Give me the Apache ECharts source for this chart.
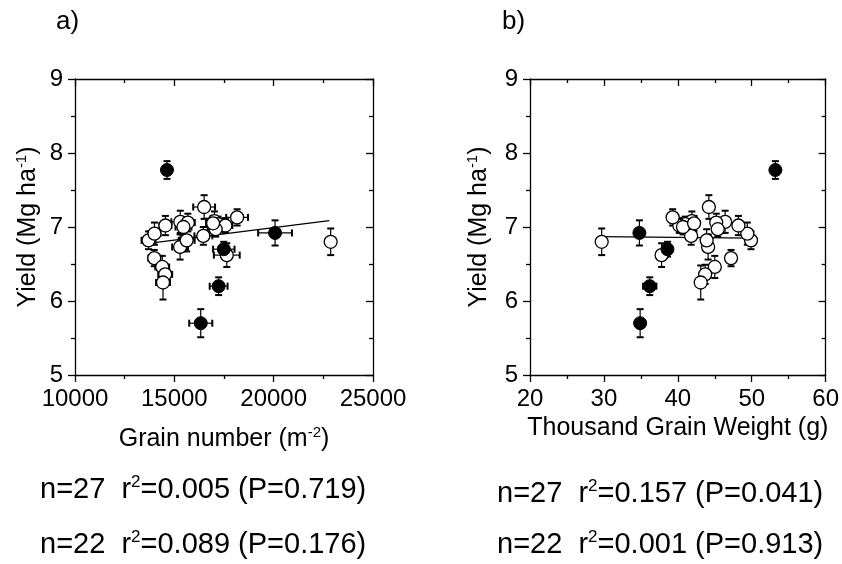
<!DOCTYPE html>
<html>
<head>
<meta charset="utf-8">
<script src="https://cdn.jsdelivr.net/npm/echarts@6/dist/echarts.min.js"></script>
<style>
  html, body { margin: 0; background: #fff; }
  #chart { width: 842px; height: 564px; }
</style>
</head>
<body>
<div id="chart"></div>
<script>
// open symbols (n=22)
const grainOpen = [13700, 14000, 14550, 13990, 14390, 14540, 14430, 15300, 15680, 15290, 15620,
  16500, 16460, 17020, 17200, 17570, 18160, 17640, 22870, 17080, 15460, 16950];
const grainOpenErr = [350, 300, 300, 300, 350, 350, 350, 450, 350, 400, 400,
  550, 450, 400, 400, 350, 550, 650, 250, 400, 400, 350];
const tgwOpen = [49.9, 49.4, 48.2, 47.2, 45.0, 43.7, 43.1, 46.4, 45.2, 44.1, 43.9,
  44.2, 41.8, 41.9, 41.0, 40.2, 39.3, 37.8, 29.7, 45.4, 40.7, 42.2];
const tgwOpenErr = [0.4, 0.5, 0.4, 0.3, 0.4, 0.5, 0.5, 0.5, 0.4, 0.3, 0.4,
  0.6, 0.5, 0.4, 0.4, 0.4, 0.4, 0.5, 0.3, 0.4, 0.4, 0.4];
const yieldOpen = [6.82, 6.91, 7.02, 6.58, 6.46, 6.36, 6.25, 7.07, 7.06, 6.73, 6.82,
  7.27, 6.88, 7.08, 7.04, 7.02, 7.13, 6.62, 6.80, 6.97, 7.00, 7.05];
const yieldOpenErr = [0.12, 0.15, 0.13, 0.11, 0.15, 0.13, 0.23, 0.15, 0.12, 0.17, 0.15,
  0.16, 0.12, 0.13, 0.10, 0.10, 0.11, 0.16, 0.18, 0.10, 0.10, 0.10];

// filled symbols
const grainFilled = [14630, 20070, 17490, 17230, 16330];
const grainFilledErr = [200, 850, 540, 450, 580];
const tgwFilled = [53.2, 34.8, 38.6, 36.2, 34.9];
const tgwFilledErr = [0.4, 0.5, 0.5, 0.9, 0.4];
const yieldFilled = [7.77, 6.92, 6.70, 6.20, 5.70];
const yieldFilledErr = [0.12, 0.17, 0.10, 0.12, 0.19];

// fitted lines
const fitAx = [13700, 22800];
const fitAy = [6.78, 7.085];
const fitBx = [29.7, 49.9];
const fitBy = [6.87, 6.85];

const statsA = [['27', '0.005', '0.719'], ['22', '0.089', '0.176']];
const statsB = [['27', '0.157', '0.041'], ['22', '0.001', '0.913']];

const FONT = '"Liberation Sans", Arial, sans-serif';

const zip = (...cols) => cols[0].map((_, i) => cols.map((c) => c[i]));

function axis(gridIndex, min, max, interval, position, mirror) {
  return {
    type: 'value',
    gridIndex,
    position,
    min,
    max,
    interval,
    axisLine: { show: true, onZero: false, lineStyle: { color: '#000', width: 1.3 } },
    axisTick: { show: true, inside: mirror, length: 7, lineStyle: { color: '#000', width: 1.3 } },
    minorTick: { show: true, splitNumber: 2, length: 4, lineStyle: { color: '#000', width: 1.3 } },
    splitLine: { show: false },
    axisLabel: {
      show: !mirror, color: '#000', fontSize: 24, fontFamily: FONT, margin: 12,
      formatter: (v) => String(v),
    },
  };
}

const nameRich = {
  n: { fontSize: 25, fontFamily: FONT, color: '#000', lineHeight: 29 },
  s: { fontSize: 15, fontFamily: FONT, color: '#000', verticalAlign: 'top', lineHeight: 16 },
};

function errorBars(params, api) {
  const x = api.value(0);
  const y = api.value(1);
  const ex = api.value(2);
  const ey = api.value(3);
  const top = api.coord([x, y + ey]);
  const bot = api.coord([x, y - ey]);
  const lft = api.coord([x - ex, y]);
  const rgt = api.coord([x + ex, y]);
  const stem = { stroke: '#000', lineWidth: 1.2 };
  const cap = { stroke: '#000', lineWidth: 2 };
  const w = 3.5;
  return {
    type: 'group',
    children: [
      { type: 'line', shape: { x1: top[0], y1: top[1], x2: bot[0], y2: bot[1] }, style: stem },
      { type: 'line', shape: { x1: top[0] - w, y1: top[1], x2: top[0] + w, y2: top[1] }, style: cap },
      { type: 'line', shape: { x1: bot[0] - w, y1: bot[1], x2: bot[0] + w, y2: bot[1] }, style: cap },
      { type: 'line', shape: { x1: lft[0], y1: lft[1], x2: rgt[0], y2: rgt[1] }, style: stem },
      { type: 'line', shape: { x1: lft[0], y1: lft[1] - w, x2: lft[0], y2: lft[1] + w }, style: cap },
      { type: 'line', shape: { x1: rgt[0], y1: rgt[1] - w, x2: rgt[0], y2: rgt[1] + w }, style: cap },
    ],
  };
}

function panelSeries(idx, xOpen, xOpenErr, xFilled, xFilledErr, fitX, fitY) {
  const ax = { xAxisIndex: idx * 2, yAxisIndex: idx * 2 };
  return [
    {
      type: 'custom', ...ax, z: 1, silent: true,
      renderItem: errorBars,
      encode: { x: 0, y: 1 },
      data: zip(xOpen, yieldOpen, xOpenErr, yieldOpenErr).concat(zip(xFilled, yieldFilled, xFilledErr, yieldFilledErr)),
    },
    {
      type: 'line', ...ax, z: 2, silent: true, symbol: 'none',
      lineStyle: { color: '#000', width: 1.2 },
      data: zip(fitX, fitY),
    },
    {
      type: 'scatter', ...ax, z: 3, symbol: 'circle', symbolSize: 13,
      itemStyle: { color: '#fff', borderColor: '#000', borderWidth: 1.3, opacity: 1 },
      data: zip(xOpen, yieldOpen),
    },
    {
      type: 'scatter', ...ax, z: 4, symbol: 'circle', symbolSize: 13,
      itemStyle: { color: '#000', borderColor: '#000', borderWidth: 1, opacity: 1 },
      data: zip(xFilled, yieldFilled),
    },
  ];
}

function statText(left, top, s) {
  return {
    type: 'text', left, top,
    style: {
      text: `{n|n=${s[0]}  r}{s|2}{n|=${s[1]} (P=${s[2]})}`,
      rich: {
        n: { fontSize: 29, fontFamily: FONT, fill: '#000', lineHeight: 32 },
        s: { fontSize: 17, fontFamily: FONT, fill: '#000', verticalAlign: 'top', lineHeight: 18 },
      },
    },
  };
}

const chart = echarts.init(document.getElementById('chart'));

const xA = axis(0, 10000, 25000, 5000, 'bottom', false);
xA.name = '{n|Grain number (m}{s|-2}{n|)}';
xA.nameLocation = 'middle';
xA.nameGap = 50;
xA.nameTextStyle = { rich: nameRich };

const xB = axis(1, 20, 60, 10, 'bottom', false);
xB.name = '{n|Thousand Grain Weight (g)}';
xB.nameLocation = 'middle';
xB.nameGap = 38;
xB.nameTextStyle = { rich: nameRich };

const yA = axis(0, 5, 9, 1, 'left', false);
yA.name = '{n|Yield (Mg ha}{s|-1}{n|)}';
yA.nameLocation = 'middle';
yA.nameGap = 32;
yA.nameTextStyle = { rich: nameRich };

const yB = axis(1, 5, 9, 1, 'left', false);
yB.name = yA.name;
yB.nameLocation = 'middle';
yB.nameGap = 36;
yB.nameTextStyle = { rich: nameRich };

chart.setOption({
  animation: false,
  grid: [
    { left: 75, top: 79, width: 298, height: 296 },
    { left: 530, top: 79, width: 298, height: 296 },
  ],
  xAxis: [xA, axis(0, 10000, 25000, 5000, 'top', true), xB, axis(1, 20, 60, 10, 'top', true)],
  yAxis: [yA, axis(0, 5, 9, 1, 'right', true), yB, axis(1, 5, 9, 1, 'right', true)],
  series: [
    ...panelSeries(0, grainOpen, grainOpenErr, grainFilled, grainFilledErr, fitAx, fitAy),
    ...panelSeries(1, tgwOpen, tgwOpenErr, tgwFilled, tgwFilledErr, fitBx, fitBy),
  ],
  graphic: [
    { type: 'text', left: 56, top: 9, style: { text: 'a)', font: '26px ' + FONT, fill: '#000' } },
    { type: 'text', left: 502, top: 9, style: { text: 'b)', font: '26px ' + FONT, fill: '#000' } },
    statText(40, 474, statsA[0]),
    statText(40, 529, statsA[1]),
    statText(497, 478, statsB[0]),
    statText(497, 529, statsB[1]),
  ],
});
</script>
</body>
</html>
